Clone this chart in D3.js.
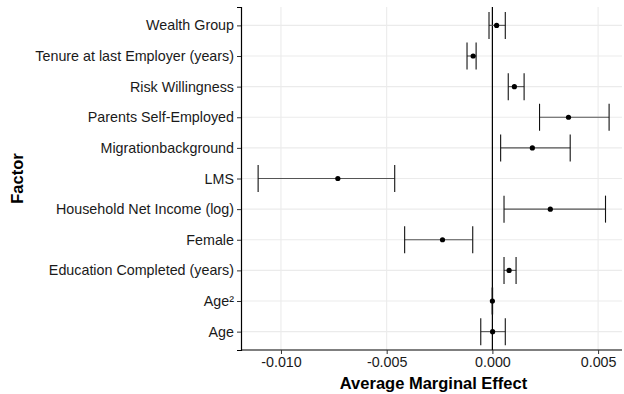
<!DOCTYPE html>
<meta charset="utf-8">
<script src="https://d3js.org/d3.v7.min.js"></script>
<style>
  body { margin: 0; background: #fff; }
  text { font-family: "Liberation Sans", Arial, sans-serif; }
</style>
<div id="chart"></div>
<script>

// factors, top to bottom
var factors = ["Wealth Group", "Tenure at last Employer (years)", "Risk Willingness",
  "Parents Self-Employed", "Migrationbackground", "LMS", "Household Net Income (log)",
  "Female", "Education Completed (years)", "Age²", "Age"];
var effects = [0.0002, -0.00091, 0.00104, 0.0036, 0.00189, -0.00731, 0.00274,
  -0.00236, 0.00079, 0.0, 0.00001];
var lower = [-0.00016, -0.0012, 0.00075, 0.00223, 0.00039, -0.01108, 0.00055,
  -0.00415, 0.00055, -0.00001, -0.00055];
var upper = [0.00061, -0.00077, 0.0015, 0.00552, 0.00368, -0.00462, 0.00535,
  -0.00093, 0.00112, 0.00001, 0.00061];
var xTicks = [-0.010, -0.005, 0.000, 0.005];

var W = 624, H = 394;
var margin = {top: 7, right: 2, bottom: 44, left: 241};
var width = W - margin.left - margin.right,
    height = H - margin.top - margin.bottom;

var svg = d3.select("#chart").append("svg")
    .attr("width", W).attr("height", H);
var g = svg.append("g")
    .attr("transform", "translate(" + margin.left + "," + margin.top + ")");

var x = d3.scaleLinear()
  .domain([-0.01189, 0.00613])
  .range([0, width]);

// discrete axis with ggplot-like 0.6 expansion
var y = d3.scalePoint()
  .domain(factors)
  .range([0, height])
  .padding(0.6);

// gridlines
g.append("g").selectAll("line.vg")
  .data(xTicks).enter().append("line")
    .attr("x1", function(d) { return x(d); })
    .attr("x2", function(d) { return x(d); })
    .attr("y1", 0).attr("y2", height)
    .style("stroke", "#ebebeb").style("stroke-width", 1.1);
g.append("g").selectAll("line.hg")
  .data(factors).enter().append("line")
    .attr("x1", 0).attr("x2", width)
    .attr("y1", function(d) { return y(d); })
    .attr("y2", function(d) { return y(d); })
    .style("stroke", "#ebebeb").style("stroke-width", 1.1);

// zero line
g.append("line")
  .attr("x1", x(0)).attr("x2", x(0))
  .attr("y1", 0).attr("y2", height)
  .style("stroke", "#000").style("stroke-width", 1.2);

// error bars
var capH = 13.5;
var bars = g.append("g").selectAll("g.bar")
  .data(factors).enter().append("g");
bars.append("line")
  .attr("x1", function(d, i) { return x(lower[i]); })
  .attr("x2", function(d, i) { return x(upper[i]); })
  .attr("y1", function(d) { return y(d); })
  .attr("y2", function(d) { return y(d); })
  .style("stroke", "#555").style("stroke-width", 1.1);
[lower, upper].forEach(function(arr) {
  bars.append("line")
    .attr("x1", function(d, i) { return x(arr[i]); })
    .attr("x2", function(d, i) { return x(arr[i]); })
    .attr("y1", function(d) { return y(d) - capH; })
    .attr("y2", function(d) { return y(d) + capH; })
    .style("stroke", "#111").style("stroke-width", 1.1);
});
bars.append("circle")
  .attr("cx", function(d, i) { return x(effects[i]); })
  .attr("cy", function(d) { return y(d); })
  .attr("r", 2.6)
  .style("fill", "#000");

// axes
var fmt = d3.format(".3f");
var xAxis = g.append("g")
  .attr("transform", "translate(0," + height + ")")
  .call(d3.axisBottom(x).tickValues(xTicks)
    .tickFormat(function(d) { return fmt(d).replace("−", "-"); })
    .tickSizeOuter(0).tickSize(4));
var yAxis = g.append("g")
  .call(d3.axisLeft(y).tickSizeOuter(0).tickSize(4));
[xAxis, yAxis].forEach(function(a) {
  a.select(".domain").style("stroke", "#000").style("stroke-width", 1.2);
  a.selectAll(".tick line").style("stroke", "#333");
  a.selectAll(".tick text").style("fill", "#1a1a1a").style("font-size", "14.3px");
});
xAxis.selectAll(".tick text").attr("dy", "0.71em").attr("y", 7);
yAxis.selectAll(".tick text").attr("x", -7);
xAxis.select(".domain").attr("d", "M0,0H" + width);

// titles
svg.append("text")
  .attr("x", margin.left + width / 2 + 2)
  .attr("y", 389)
  .attr("text-anchor", "middle")
  .style("font-size", "16.5px").style("font-weight", "bold")
  .text("Average Marginal Effect");

svg.append("text")
  .attr("transform", "translate(23," + (margin.top + height / 2) + ") rotate(-90)")
  .attr("text-anchor", "middle")
  .style("font-size", "16.5px").style("font-weight", "bold")
  .text("Factor");

</script>
